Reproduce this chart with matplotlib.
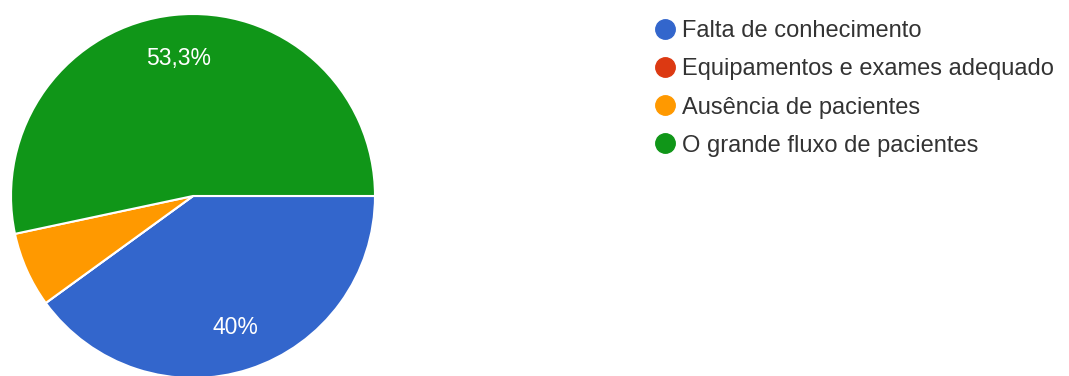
import matplotlib.pyplot as plt
from matplotlib.lines import Line2D

labels = ["Falta de conhecimento", "Equipamentos e exames adequado",
          "Ausência de pacientes", "O grande fluxo de pacientes"]
counts = [6, 0, 1, 8]
colors = ["#3366CC", "#DC3912", "#FF9900", "#109618"]

plt.rcParams['font.family'] = ['Liberation Sans', 'DejaVu Sans']

W, H = 1069, 376
fig = plt.figure(figsize=(W / 100, H / 100), dpi=100)

cx, cy, r = 193, 196, 182
ax = fig.add_axes([(cx - r) / W, (H - cy - r) / H, 2 * r / W, 2 * r / H])


def fmt(p):
    if p < 10:
        return ""
    s = f"{p:.1f}".rstrip("0").rstrip(".")
    return s.replace(".", ",") + "%"


wedges, texts, autotexts = ax.pie(
    counts, colors=colors, startangle=0, counterclock=False,
    autopct=fmt, pctdistance=0.76,
    wedgeprops=dict(edgecolor="white", linewidth=1.5),
    textprops=dict(color="white", fontsize=16.5))
ax.set_xlim(-1, 1)
ax.set_ylim(-1, 1)
ax.set_aspect("equal")
ax.axis("off")

handles = [Line2D([], [], marker="o", linestyle="none", markersize=14,
                  markerfacecolor=c, markeredgecolor=c) for c in colors]
fig.legend(handles, labels, loc="upper left",
           bbox_to_anchor=(643 / W, 1 - 11 / H), frameon=False,
           fontsize=17, labelcolor="#333333", handletextpad=0.15,
           labelspacing=0.68, borderaxespad=0, handlelength=1.1)

fig.savefig("out.png", dpi=100)
